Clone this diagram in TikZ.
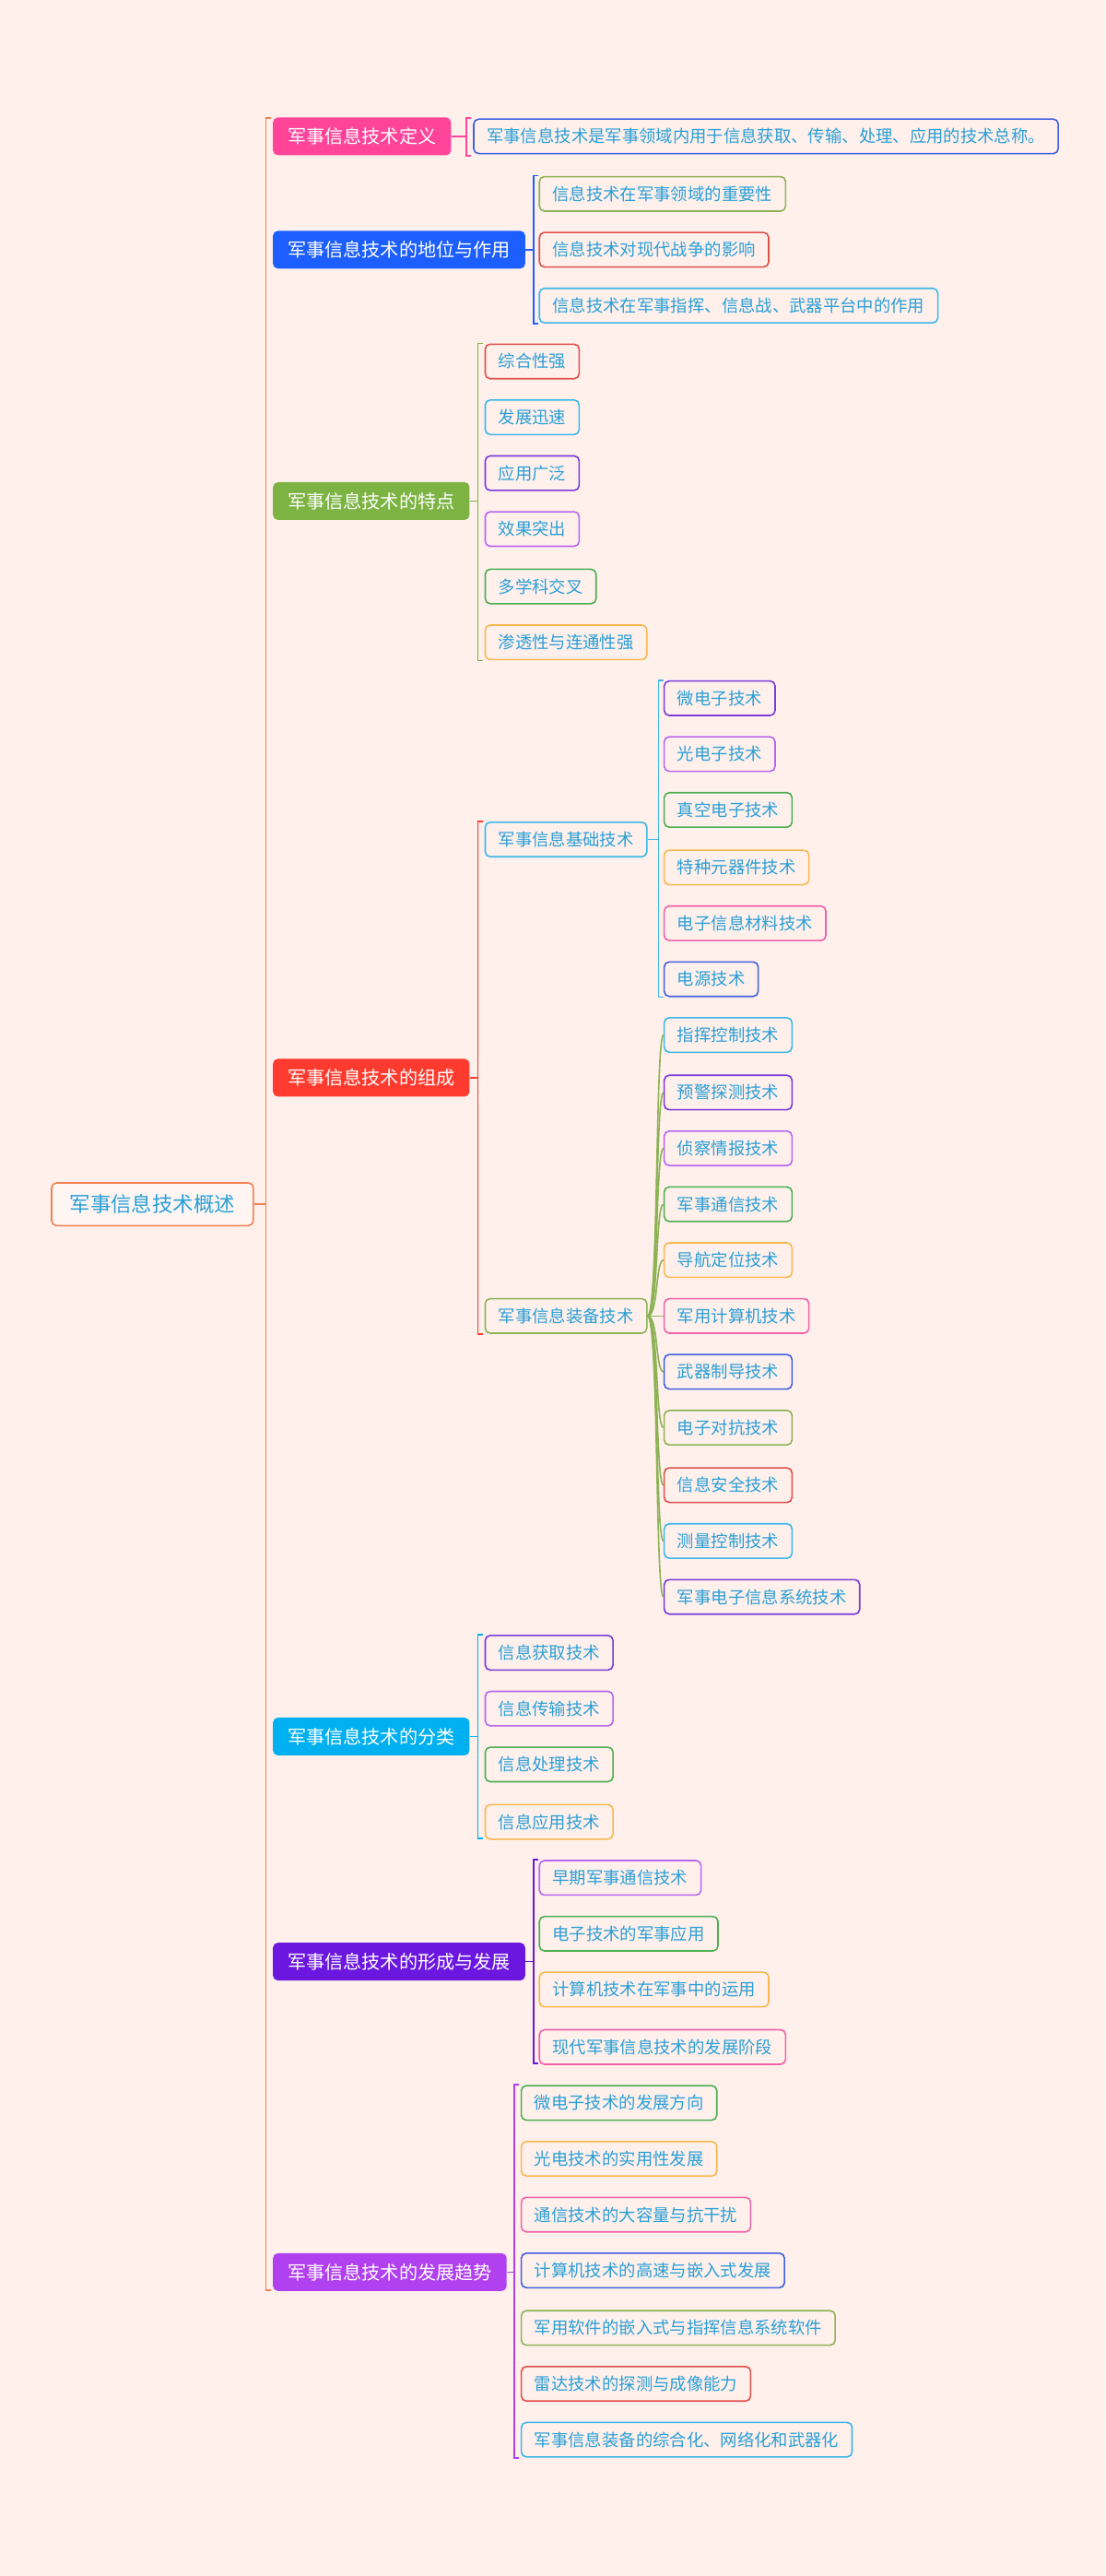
\documentclass[tikz,border=0pt]{standalone}
\usepackage{fontspec}
\newfontfamily\cjk{Noto Sans CJK SC}
\definecolor{bg}{HTML}{FFF0EC}
\definecolor{txt}{HTML}{2A9FD6}
\definecolor{cOr}{HTML}{F0804F}
\definecolor{cPk}{HTML}{FF4499}
\definecolor{cBl}{HTML}{1D5EFF}
\definecolor{cGr}{HTML}{7CB342}
\definecolor{cRd}{HTML}{FF3B2F}
\definecolor{cCy}{HTML}{00B0F0}
\definecolor{cPu}{HTML}{6B17E0}
\definecolor{cVi}{HTML}{B040F0}
\definecolor{kBlue}{HTML}{4060E0}
\definecolor{kOl}{HTML}{8DB255}
\definecolor{kRed}{HTML}{E0504A}
\definecolor{kCy}{HTML}{3DB8E8}
\definecolor{kPur}{HTML}{7A3AD8}
\definecolor{kVio}{HTML}{B865F0}
\definecolor{kGrn}{HTML}{4CAF50}
\definecolor{kOra}{HTML}{F8B850}
\definecolor{kPink}{HTML}{F062A8}
\newcommand\mbrk[4]{%
  \draw[#1,line width=0.9pt] (#2+3,#3) -- (#2,#3) -- (#2,#4) -- (#2+3,#4);}
\begin{document}
\begin{tikzpicture}[x=1pt,y=-1pt,
  child/.style={draw=#1, line width=0.9pt, rounded corners=3pt, fill=bg, text=txt,
    font=\cjk\fontsize{10.3}{12}\selectfont, inner xsep=8pt, minimum height=21pt, anchor=west},
  mainn/.style={fill=#1, draw=none, rounded corners=3pt, text=white,
    font=\cjk\fontsize{11.3}{13}\selectfont, inner xsep=9pt, minimum height=23pt, anchor=west},
  ln/.style={line width=0.9pt,#1}]
\fill[bg] (0,0) rectangle (673,1568);
\useasboundingbox (0,0) rectangle (673,1568);
% root
\node[draw=cOr,line width=0.9pt,rounded corners=3pt,fill=white!40!bg,text=txt,
  font=\cjk\fontsize{12.6}{14}\selectfont,inner xsep=11pt,minimum height=26pt,anchor=west] (root) at (31,733) {军事信息技术概述};
\coordinate (trunk) at (162,733);
\draw[ln=cOr] (root.east) -- (trunk);
\mbrk{cOr}{162}{72}{1394}
% level 1
\node[mainn=cPk] (m1) at (166,83) {军事信息技术定义};
\node[mainn=cBl] (m2) at (166,152) {军事信息技术的地位与作用};
\node[mainn=cGr] (m3) at (166,305) {军事信息技术的特点};
\node[mainn=cRd] (m4) at (166,656) {军事信息技术的组成};
\node[mainn=cCy] (m5) at (166,1057) {军事信息技术的分类};
\node[mainn=cPu] (m6) at (166,1194) {军事信息技术的形成与发展};
\node[mainn=cVi] (m7) at (166,1383) {军事信息技术的发展趋势};
% def
\node[child=kBlue] (d1) at (288,83) {军事信息技术是军事领域内用于信息获取、传输、处理、应用的技术总称。};
\coordinate (b1) at (284,83); \draw[ln=cPk] (m1.east) -- (b1); \mbrk{cPk}{284}{72}{95}
% role
\node[child=kOl] (r1) at (328,118) {信息技术在军事领域的重要性};
\node[child=kRed] (r2) at (328,152) {信息技术对现代战争的影响};
\node[child=kCy] (r3) at (328,186) {信息技术在军事指挥、信息战、武器平台中的作用};
\coordinate (b2) at (325,152); \draw[ln=cBl] (m2.east) -- (b2); \mbrk{cBl}{325}{107}{197}
% features
\node[child=kRed] (f1) at (295,220) {综合性强};
\node[child=kCy] (f2) at (295,254) {发展迅速};
\node[child=kPur] (f3) at (295,288) {应用广泛};
\node[child=kVio] (f4) at (295,322) {效果突出};
\node[child=kGrn] (f5) at (295,357) {多学科交叉};
\node[child=kOra] (f6) at (295,391) {渗透性与连通性强};
\coordinate (b3) at (291,305); \draw[ln=cGr] (m3.east) -- (b3); \mbrk{cGr}{291}{209}{402}
% composition
\node[child=kCy] (c1) at (295,511) {军事信息基础技术};
\node[child=kOl] (c2) at (295,801) {军事信息装备技术};
\coordinate (b4) at (291,656); \draw[ln=cRd] (m4.east) -- (b4); \mbrk{cRd}{291}{500}{812}
% basic
\node[child=kPur] (a1) at (404,425) {微电子技术};
\node[child=kVio] (a2) at (404,459) {光电子技术};
\node[child=kGrn] (a3) at (404,493) {真空电子技术};
\node[child=kOra] (a4) at (404,528) {特种元器件技术};
\node[child=kPink] (a5) at (404,562) {电子信息材料技术};
\node[child=kBlue] (a6) at (404,596) {电源技术};
\coordinate (b5) at (401,511); \draw[ln=kCy] (c1.east) -- (b5); \mbrk{kCy}{401}{414}{607}
% equipment
\node[child=kCy] (e1) at (404,630) {指挥控制技术};
\node[child=kPur] (e2) at (404,665) {预警探测技术};
\node[child=kVio] (e3) at (404,699) {侦察情报技术};
\node[child=kGrn] (e4) at (404,733) {军事通信技术};
\node[child=kOra] (e5) at (404,767) {导航定位技术};
\node[child=kPink] (e6) at (404,801) {军用计算机技术};
\node[child=kBlue] (e7) at (404,835) {武器制导技术};
\node[child=kOl] (e8) at (404,869) {电子对抗技术};
\node[child=kRed] (e9) at (404,904) {信息安全技术};
\node[child=kCy] (e10) at (404,938) {测量控制技术};
\node[child=kPur] (e11) at (404,972) {军事电子信息系统技术};
\foreach \n/\y in {e1/630,e2/665,e3/699,e4/733,e5/767,e6/801,e7/835,e8/869,e9/904,e10/938,e11/972}{
  \draw[ln=kOl] (c2.east) .. controls (401,801) and (399,\y) .. (\n.west);}
% classification
\node[child=kPur] (s1) at (295,1006) {信息获取技术};
\node[child=kVio] (s2) at (295,1040) {信息传输技术};
\node[child=kGrn] (s3) at (295,1074) {信息处理技术};
\node[child=kOra] (s4) at (295,1109) {信息应用技术};
\coordinate (b6) at (291,1057); \draw[ln=cCy] (m5.east) -- (b6); \mbrk{cCy}{291}{995}{1119}
% formation
\node[child=kVio] (h1) at (328,1143) {早期军事通信技术};
\node[child=kGrn] (h2) at (328,1177) {电子技术的军事应用};
\node[child=kOra] (h3) at (328,1211) {计算机技术在军事中的运用};
\node[child=kPink] (h4) at (328,1246) {现代军事信息技术的发展阶段};
\coordinate (b7) at (325,1194); \draw[ln=cPu] (m6.east) -- (b7); \mbrk{cPu}{325}{1132}{1256}
% trends
\node[child=kGrn] (t1) at (317,1280) {微电子技术的发展方向};
\node[child=kOra] (t2) at (317,1314) {光电技术的实用性发展};
\node[child=kPink] (t3) at (317,1348) {通信技术的大容量与抗干扰};
\node[child=kBlue] (t4) at (317,1382) {计算机技术的高速与嵌入式发展};
\node[child=kOl] (t5) at (317,1417) {军用软件的嵌入式与指挥信息系统软件};
\node[child=kRed] (t6) at (317,1451) {雷达技术的探测与成像能力};
\node[child=kCy] (t7) at (317,1485) {军事信息装备的综合化、网络化和武器化};
\coordinate (b8) at (313,1383); \draw[ln=cVi] (m7.east) -- (b8); \mbrk{cVi}{313}{1269}{1496}
\end{tikzpicture}
\end{document}
